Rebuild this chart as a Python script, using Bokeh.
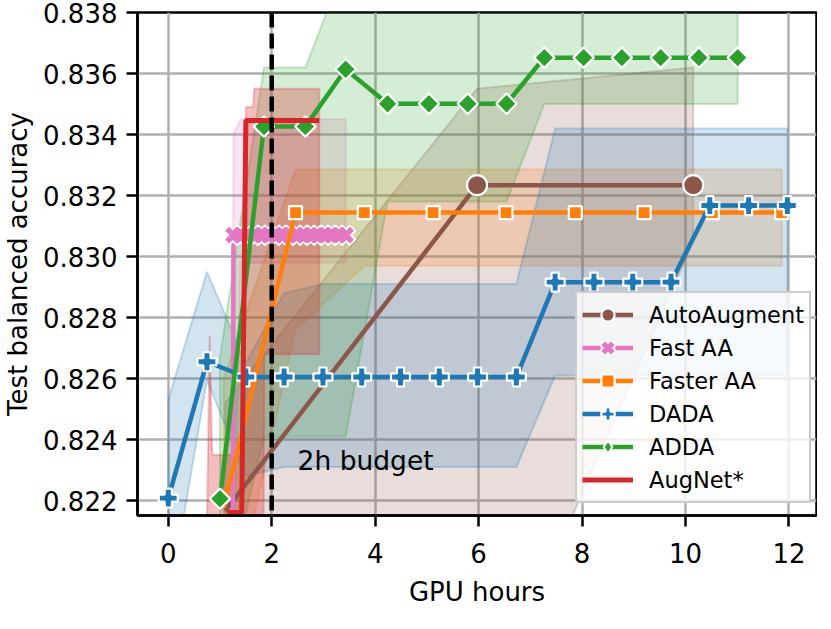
from bokeh.plotting import figure
from bokeh.models import Range1d, FixedTicker, PrintfTickFormatter, Span, Legend, LegendItem
from bokeh.core.properties import value
from bokeh.embed import file_html
from bokeh.resources import INLINE
import math

FONT = "DejaVu Sans"

# ---------------- data ----------------
x_ticks = [0, 2, 4, 6, 8, 10, 12]
y_ticks = [0.822, 0.824, 0.826, 0.828, 0.830, 0.832, 0.834, 0.836, 0.838]

budget_hours = 2.0
budget_text = ["2h budget"]
budget_text_x = [2.5]
budget_text_y = [0.8233]

# AutoAugment
auto_x = [1.10, 5.97, 10.15]
auto_y = [0.82166, 0.83234, 0.83234]
auto_lo = [0.8150, 0.8144, 0.8305]
auto_hi = [0.8252, 0.8355, 0.8362]

# Fast AA
fast_x = [1.25, 1.26, 1.40, 1.53, 1.67, 1.80, 1.94, 2.07, 2.21, 2.34,
          2.48, 2.62, 2.75, 2.89, 3.02, 3.16, 3.29, 3.43]
fast_y = [0.8200, 0.8307, 0.8307, 0.8307, 0.8307, 0.8307, 0.8307, 0.8307, 0.8307, 0.8307,
          0.8307, 0.8307, 0.8307, 0.8307, 0.8307, 0.8307, 0.8307, 0.8307]
fast_lo = [0.8190, 0.8195, 0.8298, 0.8298, 0.8298, 0.8298, 0.8298, 0.8298, 0.8298, 0.8298,
           0.8298, 0.8298, 0.8298, 0.8298, 0.8298, 0.8298, 0.8298, 0.8298]
fast_hi = [0.8212, 0.8340, 0.8345, 0.8345, 0.8345, 0.8345, 0.8345, 0.8345, 0.8345, 0.8345,
           0.8345, 0.8345, 0.8345, 0.8345, 0.8345, 0.8345, 0.8345, 0.8345]

# Faster AA
faster_x = [1.07, 2.46, 3.79, 5.12, 6.53, 7.87, 9.20, 10.52, 11.86]
faster_y = [0.82177, 0.83144, 0.83144, 0.83144, 0.83144, 0.83144, 0.83144, 0.83144, 0.83144]
faster_lo = [0.8170, 0.8276, 0.8297, 0.8297, 0.8297, 0.8297, 0.8297, 0.8297, 0.8297]
faster_hi = [0.8260, 0.83285, 0.83285, 0.83285, 0.83285, 0.83285, 0.83285, 0.83285, 0.83285]

# DADA
dada_x = [0.00, 0.748, 1.50, 2.24, 2.99, 3.74, 4.49, 5.24, 5.98, 6.73,
          7.48, 8.23, 8.98, 9.72, 10.47, 11.22, 11.97]
dada_y = [0.82208, 0.82655, 0.82605, 0.82605, 0.82605, 0.82605, 0.82605, 0.82605, 0.82605, 0.82605,
          0.82916, 0.82916, 0.82916, 0.82916, 0.83167, 0.83167, 0.83167]
dada_lo = [0.8185, 0.82595, 0.8228, 0.8231, 0.8231, 0.8231, 0.8231, 0.8231, 0.8231, 0.8231,
           0.8261, 0.8261, 0.8261, 0.8261, 0.8261, 0.8261, 0.8261]
dada_hi = [0.8253, 0.8295, 0.8265, 0.8288, 0.8291, 0.8291, 0.8291, 0.8291, 0.8291, 0.8291,
           0.8342, 0.8342, 0.8342, 0.8342, 0.8342, 0.8342, 0.8342]

# ADDA
adda_x = [1.00, 1.85, 2.65, 3.43, 4.24, 5.04, 5.79, 6.54, 7.27, 8.03, 8.77, 9.52, 10.26, 11.01]
adda_y = [0.82206, 0.83426, 0.83426, 0.83614, 0.83501, 0.83501, 0.83501, 0.83501,
          0.83652, 0.83652, 0.83652, 0.83652, 0.83652, 0.83652]
adda_lo = [0.8180, 0.8241, 0.8241, 0.8241, 0.8318, 0.8318, 0.8318, 0.8318,
           0.8350, 0.8350, 0.8350, 0.8350, 0.8350, 0.8350]
adda_hi = [0.8267, 0.8362, 0.8362, 0.8396, 0.8400, 0.8400, 0.8400, 0.8400,
           0.8400, 0.8400, 0.8400, 0.8400, 0.8400, 0.8400]

# AugNet*
augnet_x = [1.14, 1.42, 1.50, 2.92]
augnet_y = [0.82161, 0.82161, 0.83446, 0.83446]
augnet_band_x = [0.75, 0.80, 0.85, 1.45, 1.50, 1.64, 1.66, 1.84, 1.86, 2.92]
augnet_band_lo = [0.8200, 0.8200, 0.8200, 0.8200, 0.8200, 0.8200, 0.8200, 0.8200, 0.8268, 0.8268]
augnet_band_hi = [0.8215, 0.8274, 0.8235, 0.8235, 0.8349, 0.8349, 0.8355, 0.8355, 0.8355, 0.8355]

BROWN, PINK, ORANGE, BLUE, GREEN, RED = "#8c564b", "#e377c2", "#ff7f0e", "#1f77b4", "#2ca02c", "#d62728"

p = figure(frame_width=679, frame_height=503,
           min_border_left=135, min_border_right=1, min_border_top=12, min_border_bottom=98,
           x_range=Range1d(-0.595, 12.533), y_range=Range1d(0.82151, 0.838),
           output_backend="svg", toolbar_location=None)
p.background_fill_color = "white"
p.border_fill_color = "white"
p.outline_line_color = "black"
p.outline_line_width = 2.5
p.outline_line_alpha = 1.0


def band(xs, lo, hi, color, alpha=0.2):
    p.patch(xs + xs[::-1], hi + lo[::-1], fill_color=color, fill_alpha=alpha,
            line_color=color, line_alpha=0.25, line_width=2)


band(auto_x, auto_lo, auto_hi, BROWN)
band(fast_x, fast_lo, fast_hi, PINK)
band(faster_x, faster_lo, faster_hi, ORANGE)
band(dada_x, dada_lo, dada_hi, BLUE)
band(adda_x, adda_lo, adda_hi, GREEN)
band(augnet_band_x, augnet_band_lo, augnet_band_hi, RED, 0.3)

LW = 4.5
auto_line = p.line(auto_x, auto_y, line_color=BROWN, line_width=LW)
auto_sc = p.scatter(auto_x[1:], auto_y[1:], marker="circle", size=20, fill_color=BROWN,
                    line_color="white", line_width=2.2)

fast_line = p.line(fast_x, fast_y, line_color=PINK, line_width=LW)
fast_sc_w = p.scatter(fast_x[1:], fast_y[1:], marker="x", size=21, line_color="white", line_width=9.5)
fast_sc = p.scatter(fast_x[1:], fast_y[1:], marker="x", size=18, line_color=PINK, line_width=5.5)

faster_line = p.line(faster_x, faster_y, line_color=ORANGE, line_width=LW)
faster_sc = p.scatter(faster_x[1:], faster_y[1:], marker="square", size=13, fill_color=ORANGE,
                      line_color="white", line_width=2.2)

dada_line = p.line(dada_x, dada_y, line_color=BLUE, line_width=LW)
dada_sc = p.scatter(dada_x, dada_y, marker="plus", size=19, fill_color=BLUE,
                    line_color="white", line_width=2.2)

adda_line = p.line(adda_x, adda_y, line_color=GREEN, line_width=LW)
adda_sc = p.scatter(adda_x, adda_y, marker="square", angle=math.pi / 4, size=14.5, fill_color=GREEN,
                    line_color="white", line_width=2.2)
adda_leg = p.scatter(adda_x, adda_y, marker="diamond", size=0, fill_color=GREEN,
                     line_color="white", line_width=2)

augnet_line = p.line(augnet_x, augnet_y, line_color=RED, line_width=5)

p.add_layout(Span(location=budget_hours, dimension="height", line_color="black",
                  line_width=4.5, line_dash="15 6"))
p.text(budget_text_x, budget_text_y, text=budget_text, text_font=value(FONT),
       text_font_size="26.5px", text_baseline="middle", text_align="left", text_color="black")

p.xaxis.ticker = FixedTicker(ticks=x_ticks)
p.yaxis.ticker = FixedTicker(ticks=y_ticks)
p.xgrid.ticker = FixedTicker(ticks=x_ticks)
p.ygrid.ticker = FixedTicker(ticks=y_ticks)
p.yaxis.formatter = PrintfTickFormatter(format="%.3f")
p.xaxis.axis_label = "GPU hours"
p.yaxis.axis_label = "Test balanced accuracy"
for ax in (p.xaxis[0], p.yaxis[0]):
    ax.axis_line_width = 2.5
    ax.axis_line_color = "black"
    ax.major_tick_line_width = 2.5
    ax.major_tick_line_color = "black"
    ax.major_tick_out = 11
    ax.major_tick_in = 0
    ax.minor_tick_line_color = None
    ax.major_label_text_font = FONT
    ax.major_label_text_font_size = "26px"
    ax.major_label_text_color = "black"
    ax.axis_label_text_font = FONT
    ax.axis_label_text_font_size = "26px"
    ax.axis_label_text_font_style = "normal"
    ax.axis_label_text_color = "black"
p.yaxis.major_label_standoff = 9
p.yaxis.axis_label_standoff = 7
p.xaxis.major_label_standoff = 16
p.xaxis.axis_label_standoff = 11

p.grid.grid_line_color = "#b0b0b0"
p.grid.grid_line_width = 2.5

legend = Legend(items=[
    LegendItem(label="AutoAugment", renderers=[auto_line, auto_sc]),
    LegendItem(label="Fast AA", renderers=[fast_line, fast_sc_w, fast_sc]),
    LegendItem(label="Faster AA", renderers=[faster_line, faster_sc]),
    LegendItem(label="DADA", renderers=[dada_line, dada_sc]),
    LegendItem(label="ADDA", renderers=[adda_line, adda_leg]),
    LegendItem(label="AugNet*", renderers=[augnet_line]),
], location=(438, 12))
legend.label_text_font = FONT
legend.label_text_font_size = "22.5px"
legend.label_text_color = "black"
legend.border_line_color = "#cccccc"
legend.border_line_width = 2.5
legend.border_line_alpha = 1.0
legend.background_fill_color = "white"
legend.background_fill_alpha = 0.8
legend.padding = 5
legend.spacing = 0
legend.margin = 0
legend.glyph_width = 51
legend.glyph_height = 33
legend.label_height = 33
legend.label_standoff = 16
p.add_layout(legend)

open("out.html", "w").write(file_html(p, INLINE))
